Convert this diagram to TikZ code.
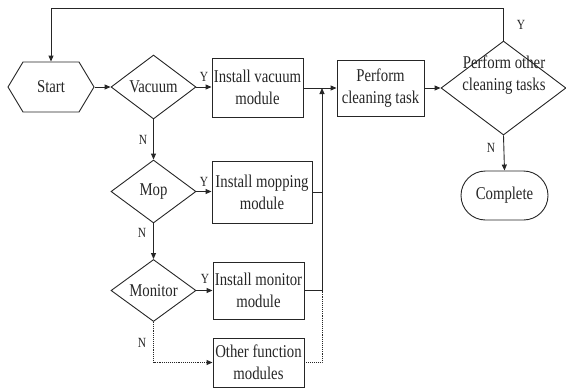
\documentclass[tikz,border=0pt]{standalone}
\usepackage{fontspec}
\setmainfont{Liberation Serif}[FakeStretch=0.82]
\usetikzlibrary{shapes.geometric,shapes.symbols,shapes.misc,arrows.meta}
\begin{document}
\begin{tikzpicture}[x=1pt,y=-1pt,
  every node/.style={text=black!85},
  txt/.style={font=\fontsize{18}{22}\selectfont, align=center},
  lbl/.style={font=\fontsize{14}{16}\selectfont, inner sep=0pt},
  box/.style={txt, draw=black!85, line width=0.9pt, rectangle, inner sep=0pt},
  dia/.style={txt, draw=black!85, line width=0.9pt, diamond, inner sep=0pt, aspect=1.3},
  conn/.style={draw=black!85, line width=0.9pt},
  arr/.style={conn, -{Triangle[length=6pt,width=5pt]}},
  dot/.style={conn, densely dotted}]
\useasboundingbox (0,0) rectangle (566,389);
% nodes
\node[txt, draw=black!85, line width=0.9pt, signal, signal to=west and east, signal pointer angle=118,
      minimum width=86pt, minimum height=50pt, inner sep=0pt] (start) at (51,87) {Start};
\node[dia, minimum width=85pt, minimum height=64pt] (vac) at (153.5,87) {Vacuum};
\node[box, minimum width=91pt, minimum height=59pt] (iv) at (257.5,87.5) {Install vacuum\\module};
\node[box, minimum width=87pt, minimum height=56pt] (pc) at (380.5,88) {Perform\\cleaning task};
\node[dia, minimum width=125pt, minimum height=94pt] (ot) at (503.5,88) {};
\node[txt] (ottext) at (504,75) {Perform other\\cleaning tasks};
\node[txt, draw=black!85, line width=0.9pt, rounded rectangle, minimum width=87pt, minimum height=49pt, inner sep=0pt] (comp) at (504.5,195.5) {Complete};
\node[dia, minimum width=85pt, minimum height=63pt] (mop) at (153.5,191.5) {Mop};
\node[box, minimum width=100pt, minimum height=62pt] (im) at (262,192) {Install mopping\\module};
\node[dia, minimum width=85pt, minimum height=62pt] (mon) at (153.5,290.5) {Monitor};
\node[box, minimum width=91pt, minimum height=57pt] (imo) at (258.5,290.5) {Install monitor\\module};
\node[box, minimum width=91pt, minimum height=49pt] (of) at (258.5,362.5) {Other function\\modules};
% coordinates
\coordinate (j) at (322,88);
\coordinate (jm) at (322,290.5);
\coordinate (top) at (503.5,8);
% connectors
\draw[arr] (start.east) -- (vac.west);
\draw[arr] (vac.east) -- (vac.east -| iv.west);
\draw[arr] (iv.east |- pc.west) -- (pc.west);
\draw[arr] (pc.east) -- (ot.west);
\draw[arr] (ot.south) -- (comp.north);
\draw[arr] (ot.north) -- (top) -| (start.north);
\draw[arr] (vac.south) -- (mop.north);
\draw[arr] (mop.east) -- (mop.east -| im.west);
\draw[arr] (mop.south) -- (mon.north);
\draw[arr] (mon.east) -- (mon.east -| imo.west);
\draw[arr] (jm) -- (j);
\draw[conn] (im.east) -- (im.east -| j);
\draw[conn] (imo.east) -- (jm);
\draw[dot, -{Triangle[length=6pt,width=5pt]}] (mon.south) |- (of.west);
\draw[dot] (of.east) -| (jm);
% labels
\node[lbl] (y1) at (204,77) {Y};
\node[lbl] (y2) at (204,182) {Y};
\node[lbl] (y3) at (205,279) {Y};
\node[lbl] (y4) at (521,25) {Y};
\node[lbl] (n1) at (143,140) {N};
\node[lbl] (n2) at (142,233) {N};
\node[lbl] (n3) at (142,343) {N};
\node[lbl] (n4) at (491,148) {N};
\end{tikzpicture}
\end{document}
